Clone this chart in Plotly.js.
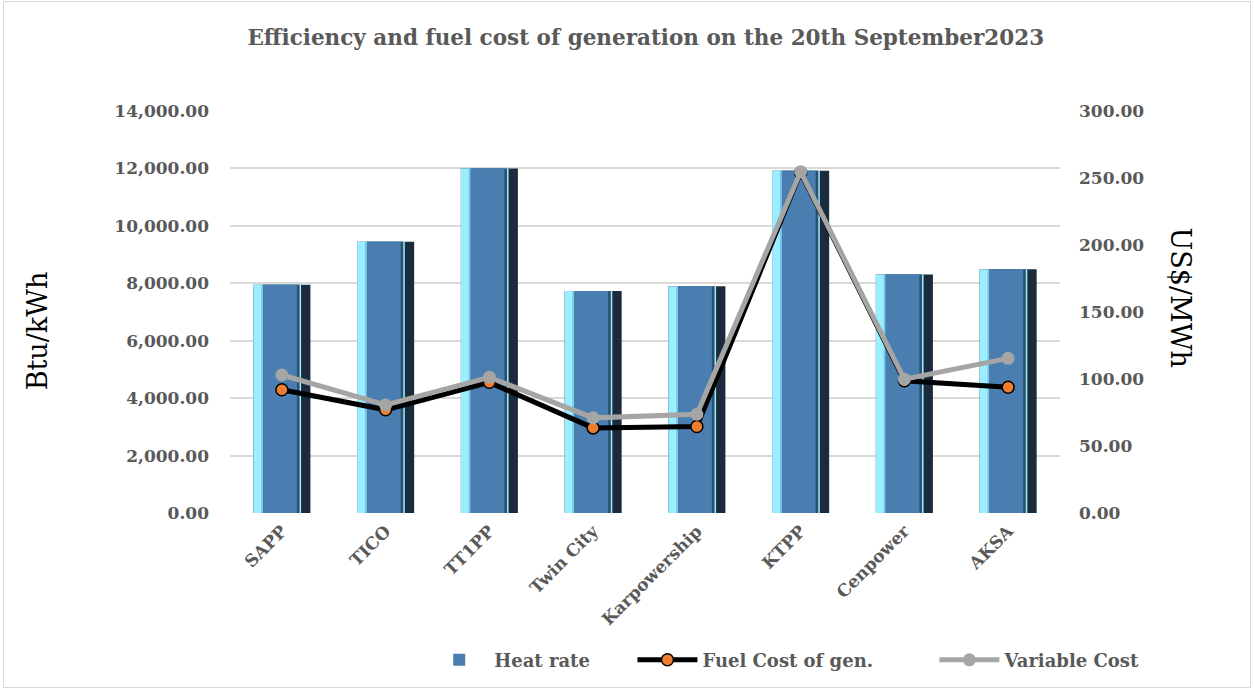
<!DOCTYPE html>
<html><head><meta charset="utf-8">
<script src="https://cdn.plot.ly/plotly-3.0.1.min.js"></script>
<style>
html,body{margin:0;padding:0;background:#fff}
#wrap{position:relative;width:1254px;height:689px}
#chart{width:1254px;height:689px}
#frame{position:absolute;left:3px;top:1px;right:3px;bottom:1px;border:1px solid #d9d9d9;pointer-events:none}
</style>
</head><body>
<div id="wrap"><div id="chart"></div><div id="frame"></div></div>
<script>
const plants = ["SAPP", "TICO", "TT1PP", "Twin City", "Karpowership", "KTPP", "Cenpower", "AKSA"];
const heatRate = [7950, 9450, 12000, 7730, 7900, 11920, 8310, 8490];
const fuelCost = [92, 77, 97.5, 63.5, 64.5, 254, 98.7, 93.8];
const variableCost = [103, 80.6, 101.3, 71, 73.7, 254.7, 99.8, 115.4];

const serif = "DejaVu Serif, Liberation Serif, serif";
const grey = "#595959";
const NB = "\u00A0";

function barLayer(color, offset, width, legend) {
  return {
    type: "bar", x: plants, y: heatRate, yaxis: "y",
    name: "Heat rate" + NB.repeat(6), showlegend: legend, legendrank: 1,
    offset: offset, width: width,
    marker: {color: color, line: {width: 0}},
    hoverinfo: "skip"
  };
}

const traces = [
  barLayer("#1b2b3b", -0.275, 0.55, false),
  barLayer("#9aeeff", -0.275, 0.46, false),
  barLayer("#78c8ec", -0.2, 0.37, false),
  barLayer("#2c506f", -0.18, 0.35, false),
  barLayer("#4a7eb0", -0.18, 0.325, true),
  {
    type: "scatter", mode: "lines+markers", x: plants, y: fuelCost, yaxis: "y2",
    name: "Fuel Cost of gen." + NB.repeat(9), legendrank: 2,
    line: {color: "#000000", width: 5},
    marker: {color: "#ed7d31", size: 12, line: {color: "#000000", width: 1.5}},
    hoverinfo: "skip"
  },
  {
    type: "scatter", mode: "lines+markers", x: plants, y: variableCost, yaxis: "y2",
    name: "Variable Cost", legendrank: 3,
    line: {color: "#a5a5a5", width: 5},
    marker: {color: "#a5a5a5", size: 13},
    hoverinfo: "skip"
  }
];

const layout = {
  width: 1254, height: 689,
  margin: {l: 230, r: 194, t: 111, b: 176, autoexpand: false},
  paper_bgcolor: "#ffffff", plot_bgcolor: "#ffffff",
  barmode: "overlay",
  title: {
    text: "<b>Efficiency and fuel cost of generation on the 20th September2023</b>",
    font: {family: serif, size: 21.5, color: grey},
    x: 0.515, xanchor: "center", y: 0.946, yanchor: "middle"
  },
  xaxis: {
    type: "category", automargin: false,
    tickangle: -45,
    tickfont: {family: serif, size: 17, color: grey, weight: "bold"},
    showgrid: false, zeroline: false, showline: false,
    ticks: "", ticklabelstandoff: 4
  },
  yaxis: {
    range: [0, 14000], dtick: 2000, tickformat: ",.2f", automargin: false,
    tickfont: {family: serif, size: 17, color: grey, weight: "bold"},
    gridcolor: "#d9d9d9", gridwidth: 2,
    zeroline: false, showline: false, ticks: "", ticklabelstandoff: 20
  },
  yaxis2: {
    range: [0, 300], dtick: 50, tickformat: ",.2f", automargin: false,
    overlaying: "y", side: "right",
    tickfont: {family: serif, size: 17, color: grey, weight: "bold"},
    showgrid: false, zeroline: false, showline: false, ticks: "", ticklabelstandoff: 18
  },
  legend: {
    orientation: "h", x: 0.234, xanchor: "left", y: -0.366, yanchor: "middle",
    font: {family: serif, size: 18, color: grey, weight: "bold"},
    traceorder: "normal", itemwidth: 60
  },
  annotations: [
    {text: "Btu/kWh", xref: "paper", yref: "paper", x: -0.232, y: 0.453,
     xanchor: "center", yanchor: "middle", textangle: -90, showarrow: false,
     font: {family: serif, size: 27, color: "#000000"}},
    {text: "US$/MWh", xref: "paper", yref: "paper", x: 1.145, y: 0.535,
     xanchor: "center", yanchor: "middle", textangle: 90, showarrow: false,
     font: {family: serif, size: 27, color: "#000000"}}
  ]
};

Plotly.newPlot("chart", traces, layout, {displayModeBar: false, staticPlot: true});
</script>
</body></html>
